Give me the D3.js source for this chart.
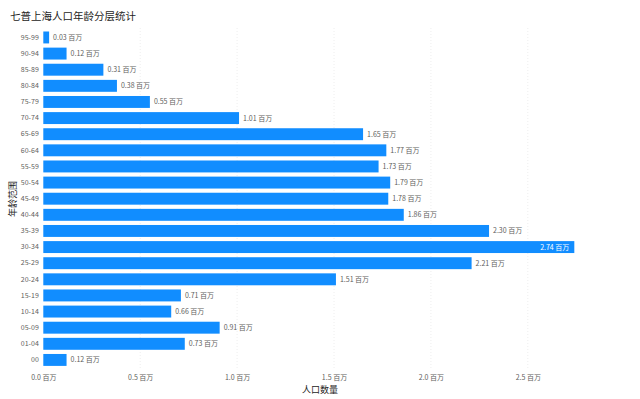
<!DOCTYPE html>
<html>

<head>
  <meta charset="utf-8">
  <title>七普上海人口年龄分层统计</title>
  <style>
    body { margin: 0; background: #fff; }
    text { font-family: "Noto Sans CJK SC", "Noto Sans", sans-serif; }
  </style>
</head>

<body>
  <svg width="640" height="399"></svg>
  <script src="https://d3js.org/d3.v7.min.js"></script>
  <script>
  // 数据
  var ageGroups = ['95-99', '90-94', '85-89', '80-84', '75-79', '70-74', '65-69', '60-64',
    '55-59', '50-54', '45-49', '40-44', '35-39', '30-34', '25-29', '20-24',
    '15-19', '10-14', '05-09', '01-04', '00'];
  var population = [0.03, 0.12, 0.31, 0.38, 0.55, 1.01, 1.65, 1.77,
    1.73, 1.79, 1.78, 1.86, 2.30, 2.74, 2.21, 1.51,
    0.71, 0.66, 0.91, 0.73, 0.12];
  var xTicks = [0, 0.5, 1.0, 1.5, 2.0, 2.5];

  var svg = d3.select('svg');
  var blue = '#118DFF';

  var x = d3.scaleLinear().domain([0, 2.9]).range([43.3, 43.3 + 2.9 * 193.8]);
  var y = d3.scaleBand().domain(ageGroups).range([29.4, 368]).paddingInner(0.26).paddingOuter(0.13);

  // 标题
  svg.append('text')
    .attr('x', 10).attr('y', 20)
    .style('font-size', '10.5px')
    .style('fill', '#252423')
    .text('七普上海人口年龄分层统计');

  // 网格线
  svg.append('g')
    .selectAll('line')
    .data(xTicks.slice(1))
    .enter()
    .append('line')
    .attr('x1', function(d) { return x(d); })
    .attr('x2', function(d) { return x(d); })
    .attr('y1', 28).attr('y2', 368)
    .style('stroke', '#eeeeee')
    .style('stroke-dasharray', '1,2');

  // X 轴
  var xAxis = d3.axisBottom(x)
    .tickValues(xTicks)
    .tickSize(0)
    .tickFormat(function(d) { return d3.format('.1f')(d) + ' 百万'; });
  var gx = svg.append('g').attr('transform', 'translate(0,372)').call(xAxis);
  gx.select('.domain').remove();
  gx.selectAll('text').style('font-size', '7px').style('fill', '#605E5C');

  // Y 轴
  var yAxis = d3.axisLeft(y).tickSize(0).tickPadding(4.5);
  var gy = svg.append('g').attr('transform', 'translate(43.3,0)').call(yAxis);
  gy.select('.domain').remove();
  gy.selectAll('text').style('font-size', '7px').style('fill', '#605E5C');

  // 轴标题
  svg.append('text')
    .attr('x', 320).attr('y', 392.5)
    .attr('text-anchor', 'middle')
    .style('font-size', '9px')
    .style('fill', '#252423')
    .text('人口数量');

  svg.append('text')
    .attr('transform', 'translate(16,199) rotate(-90)')
    .attr('text-anchor', 'middle')
    .style('font-size', '9px')
    .style('fill', '#252423')
    .text('年龄范围');

  // 柱子
  var rows = ageGroups.map(function(a, i) { return { age: a, value: population[i] }; });
  var maxV = d3.max(population);

  svg.append('g')
    .selectAll('rect')
    .data(rows)
    .enter()
    .append('rect')
    .attr('x', x(0))
    .attr('y', function(d) { return y(d.age); })
    .attr('width', function(d) { return x(d.value) - x(0); })
    .attr('height', y.bandwidth())
    .style('fill', blue);

  // 数据标签
  svg.append('g')
    .selectAll('text')
    .data(rows)
    .enter()
    .append('text')
    .attr('x', function(d) { return d.value === maxV ? x(d.value) - 5 : x(d.value) + 4; })
    .attr('y', function(d) { return y(d.age) + y.bandwidth() / 2; })
    .attr('dy', '0.35em')
    .attr('text-anchor', function(d) { return d.value === maxV ? 'end' : 'start'; })
    .style('font-size', '7px')
    .style('fill', function(d) { return d.value === maxV ? '#ffffff' : '#605E5C'; })
    .text(function(d) { return d3.format('.2f')(d.value) + ' 百万'; });
  </script>
</body>

</html>
